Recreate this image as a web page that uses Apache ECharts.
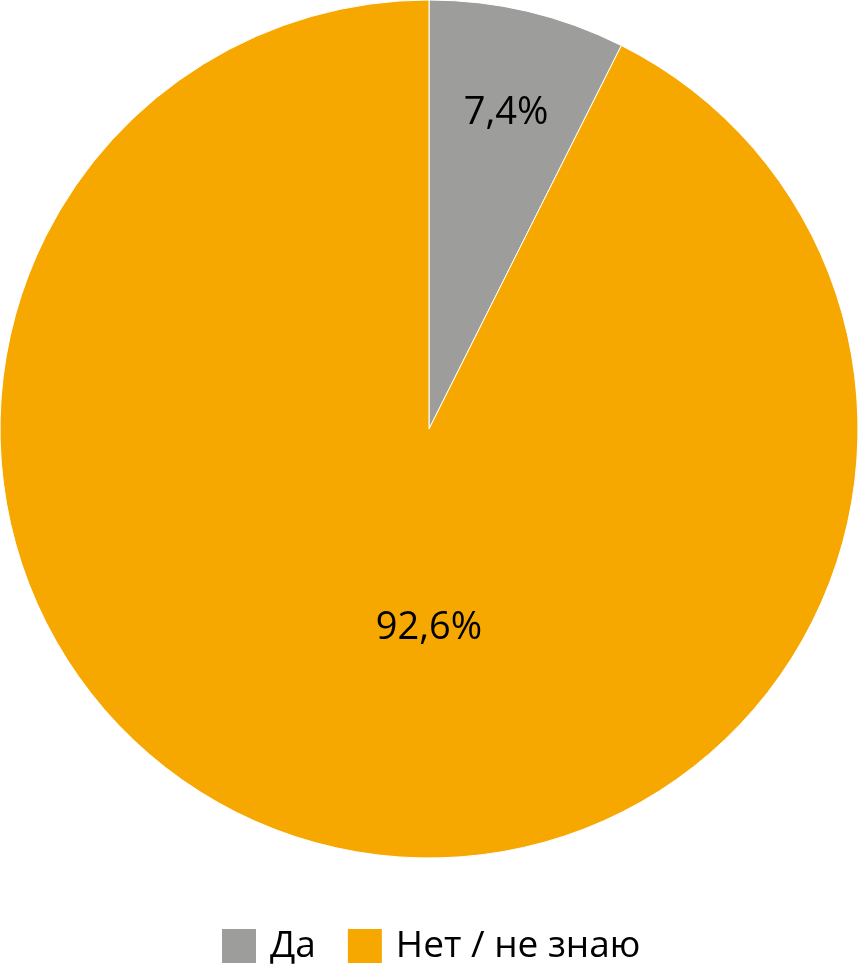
<!DOCTYPE html>
<html>
<head>
<meta charset="utf-8">
<script src="https://cdn.jsdelivr.net/npm/echarts@6/dist/echarts.min.js"></script>
<style>html,body{margin:0;padding:0;background:#fff;}#c{width:859px;height:974px;}</style>
</head>
<body>
<div id="c"></div>
<script>
const categories = ['Да', 'Нет / не знаю'];
const values = [7.4, 92.6];
const labels = ['7,4%', '92,6%'];
const colors = ['#9d9d9c', '#f6a800'];

const chart = echarts.init(document.getElementById('c'), null, {renderer: 'canvas'});
const font = '"Open Sans", "Noto Sans", sans-serif';
chart.setOption({
  animation: false,
  legend: {
    data: categories,
    left: 215,
    top: 922,
    icon: 'rect',
    itemWidth: 36,
    itemHeight: 36,
    itemGap: 30,
    textStyle: {fontFamily: font, fontSize: 37, color: '#000', padding: [0, 0, 0, 8]}
  },
  series: [{
    type: 'pie',
    center: [429, 429],
    radius: [0, 429],
    startAngle: 90,
    clockwise: true,
    avoidLabelOverlap: false,
    itemStyle: {borderColor: '#fff', borderWidth: 1},
    labelLine: {show: false},
    data: categories.map((n, i) => ({
      name: n,
      value: values[i],
      itemStyle: {color: colors[i]},
      label: i === 0
        ? {show: true, position: 'inside', offset: [27, -104], formatter: labels[i], fontFamily: font, fontSize: 38, color: '#000'}
        : {show: true, position: 'center', offset: [0, 199], formatter: labels[i], fontFamily: font, fontSize: 38, color: '#000'}
    }))
  }]
});
</script>
</body>
</html>
